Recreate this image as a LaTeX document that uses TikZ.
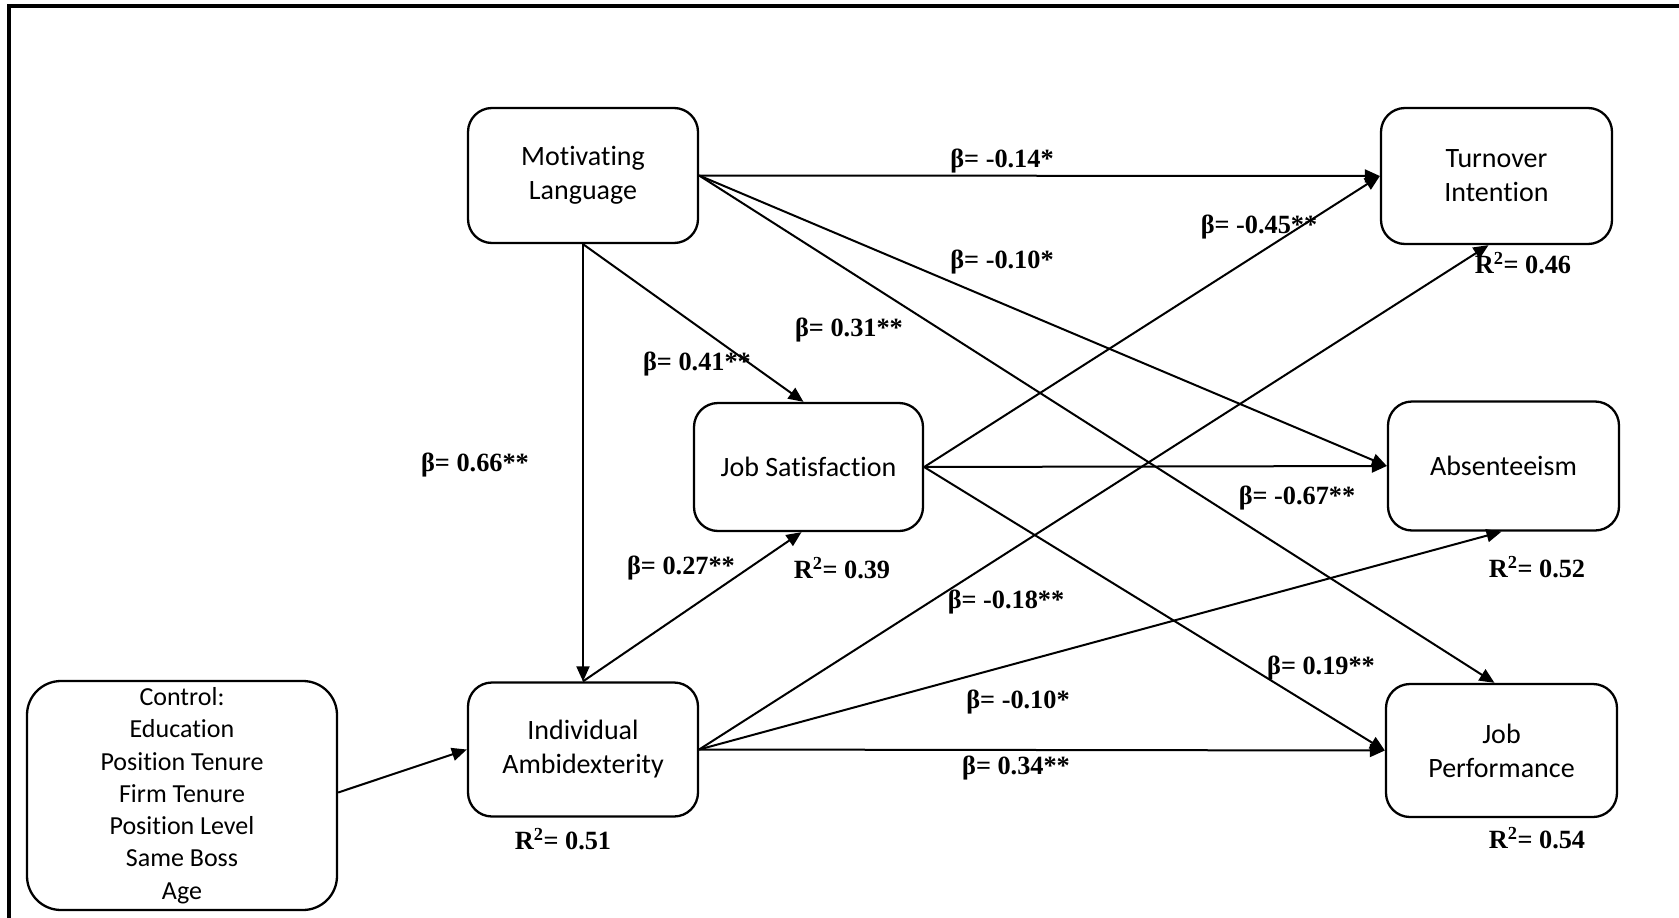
\documentclass[tikz,border=0pt]{standalone}
\usepackage{fontspec}
\setmainfont{Carlito}[Ligatures=NoCommon]
\newfontfamily\coeffont{Liberation Serif}
\usetikzlibrary{arrows.meta,calc}

\begin{document}
\begin{tikzpicture}[x=1pt,y=-1pt,
  box/.style={draw, line width=2.3pt, rounded corners=24pt, align=center,
    font=\fontsize{28}{34}\selectfont, inner sep=0pt},
  link/.style={line width=2pt, -{Triangle[length=15pt,width=13pt]}},
  coef/.style={font=\coeffont\bfseries\fontsize{26.3}{30}\selectfont, inner sep=0pt}
]
\useasboundingbox (0,0) rectangle (1679,918);
\fill[white] (0,0) rectangle (1679,918);
% outer frame
\draw[line width=4.5pt] (9,918) -- (9,6) -- (1679,6);

% constructs
\node[box, minimum width=230pt, minimum height=135pt] (ml) at (583,175.5) {Motivating\\Language};
\node[box, minimum width=231pt, minimum height=136pt] (ti) at (1496.5,176) {Turnover\\Intention};
\node[box, minimum width=229pt, minimum height=128pt] (js) at (808.5,467) {Job Satisfaction};
\node[box, minimum width=231pt, minimum height=129pt] (ab) at (1503.5,466) {Absenteeism};
\node[box, minimum width=230pt, minimum height=134pt] (ia) at (583,749.5) {Individual\\Ambidexterity};
\node[box, minimum width=231pt, minimum height=133pt] (jp) at (1501.5,750.5) {Job\\Performance};
\node[box, rounded corners=34pt, minimum width=310pt, minimum height=229pt,
  font=\fontsize{26}{32.3}\selectfont] (ctl) at (182,795.5)
  {Control:\\Education\\Position Tenure\\Firm Tenure\\Position Level\\Same Boss\\Age};

% paths
\draw[link] (ml.east) -- (ti.west);
\draw[link] (ml.east) -- (ab.west);
\draw[link] (ml.east) -- ($(jp.north)+(-7,0)$);
\draw[link] (ml.south) -- ($(js.north)+(-5,0)$);
\draw[link] (ml.south) -- (ia.north);
\draw[link] (ia.north) -- ($(js.south)+(-7,0)$);
\draw[link] (js.east) -- (ti.west);
\draw[link] (js.east) -- (ab.west);
\draw[link] (js.east) -- (jp.west);
\draw[link] (ia.east) -- ($(ti.south)+(-8,0)$);
\draw[link] (ia.east) -- ($(ab.south)+(-2,0)$);
\draw[link] (ia.east) -- (jp.west);
\draw[link] ($(ctl.east)+(0,-3)$) -- (ia.west);

% coefficients
\node[coef] (c1) at (1002,161) {β= -0.14*};
\node[coef] (c2) at (1002,262) {β= -0.10*};
\node[coef] (c3) at (849,330) {β= 0.31**};
\node[coef] (c4) at (697,364) {β= 0.41**};
\node[coef] (c5) at (475,465) {β= 0.66**};
\node[coef] (c6) at (1259,227) {β= -0.45**};
\node[coef] (c7) at (1297,498) {β= -0.67**};
\node[coef] (c8) at (681,568) {β= 0.27**};
\node[coef] (c9) at (1006,602) {β= -0.18**};
\node[coef] (c10) at (1018,702) {β= -0.10*};
\node[coef] (c11) at (1016,768) {β= 0.34**};
\node[coef] (c12) at (1321,668) {β= 0.19**};

% explained variance
\node[coef] (r1) at (1523,263) {R\textsuperscript{2}= 0.46};
\node[coef] (r2) at (1537,567) {R\textsuperscript{2}= 0.52};
\node[coef] (r3) at (1537,838) {R\textsuperscript{2}= 0.54};
\node[coef] (r4) at (842,568) {R\textsuperscript{2}= 0.39};
\node[coef] (r5) at (563,839) {R\textsuperscript{2}= 0.51};
\end{tikzpicture}
\end{document}
